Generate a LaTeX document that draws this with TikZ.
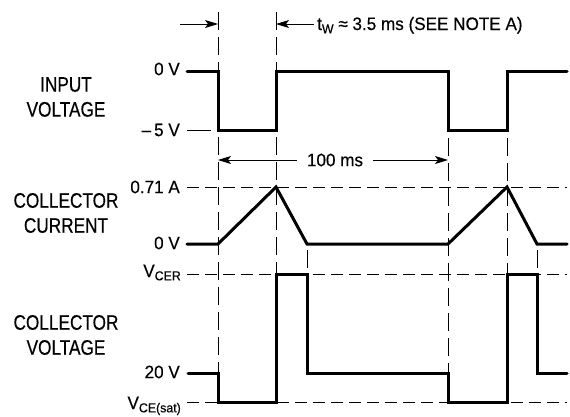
\documentclass[tikz,border=0pt]{standalone}
\usepackage{fontspec}
\setmainfont{Liberation Sans}
\newfontfamily\titlefont[FakeStretch=0.82,FakeBold=0.4]{Liberation Sans}
\newfontfamily\valfont[FakeStretch=0.95,FakeBold=0.4]{Liberation Sans}
\usetikzlibrary{arrows.meta}
\newcommand\mysub[1]{\raisebox{-0.35ex}{\fontsize{13}{13}\selectfont #1}}
\begin{document}
\begin{tikzpicture}[x=1pt,y=-1pt,
  wave/.style={line width=3pt, line join=miter, line cap=round},
  guide/.style={line width=0.9pt, dash pattern=on 12pt off 6pt},
  vguide/.style={line width=0.9pt, dash pattern=on 18pt off 7pt},
  dim/.style={line width=0.9pt, -{Stealth[length=13pt,width=8pt,inset=3pt]}},
  tick/.style={line width=0.9pt},
  title/.style={font=\titlefont\fontsize{21}{25}\selectfont, align=center},
  val/.style={font=\valfont\fontsize{18}{18}\selectfont, anchor=east, inner sep=0pt}]
\useasboundingbox (0,0) rectangle (570,416);

% titles
\node[title] (inp) at (66,97) {INPUT\\VOLTAGE};
\node[title] (cc) at (66,213) {COLLECTOR\\CURRENT};
\node[title] (cv) at (66,335) {COLLECTOR\\VOLTAGE};

% value labels
\node[val] (v0) at (180,69) {0 V};
\node[val] (v5) at (180,130) {–\,5 V};
\node[val] (ia) at (180,187) {0.71 A};
\node[val] (i0) at (180,243) {0 V};
\node[val, anchor=base east] (vcer) at (181,277) {V\mysub{CER}};
\node[val] (v20) at (180,372) {20 V};
\node[val, anchor=base east] (vsat) at (181,409) {V\mysub{CE(sat)}};

% tick after -5 V
\coordinate (t5a) at (187,130);
\coordinate (t5b) at (211,130);
\draw[tick] (t5a) -- (t5b);

% top pulse width arrows
\coordinate (a1s) at (180,24);
\coordinate (a1e) at (218,24);
\draw[dim] (a1s) -- (a1e);
\node[val, anchor=base west] (tw) at (317,30) {t\mysub{W} ≈ 3.5 ms (SEE NOTE A)};
\coordinate (a2s) at (314,24);
\coordinate (a2e) at (276,24);
\draw[dim] (a2s) -- (a2e);

% 100 ms arrow
\node[val, anchor=center, inner xsep=10pt] (hund) at (335,160) {100 ms};
\coordinate (h1) at (218,160);
\coordinate (h2) at (448,160);
\draw[dim] (hund.west) -- (h1);
\draw[dim] (hund.east) -- (h2);

% vertical guides
\draw[vguide] (218,12) -- (218,373);
\draw[vguide] (276,12) -- (276,274);
\draw[vguide] (448,138) -- (448,373);
\draw[vguide] (507,138) -- (507,274);
\draw[vguide] (307,250) -- (307,274);
\draw[vguide] (537,250) -- (537,274);

% horizontal guides
\draw[guide] (187,187) -- (567,187);
\draw[guide] (187,274) -- (567,274);
\draw[guide] (187,402) -- (567,402);

% waveforms
\draw[wave] (187,71) -| (218,130) -| (276,71) -| (448,130) -| (507,71) -- (567,71);
\draw[wave] (187,244) -- (218,244) -- (276,187) -- (307,244) -- (448,244) -- (507,187) -- (537,244) -- (567,244);
\draw[wave] (188,373) -| (218,402) -| (276,274) -| (307,373) -| (448,402) -| (507,274) -| (537,373) -- (567,373);
\end{tikzpicture}
\end{document}
